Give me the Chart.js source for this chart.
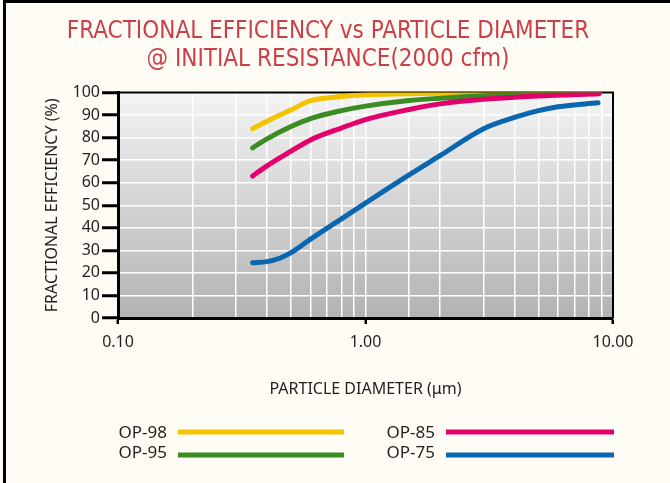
<!DOCTYPE html>
<html>
<head>
<meta charset="utf-8">
<script src="https://cdn.jsdelivr.net/npm/chart.js@4.4.1/dist/chart.umd.min.js"></script>
<style>
  html, body { margin: 0; padding: 0; background: #fffcf5; }
  #wrap { position: relative; width: 670px; height: 483px; }
</style>
</head>
<body>
<div id="wrap"><canvas id="chart-efficiency"></canvas></div>
<script>
// Data Start
const diameters = [0.35, 0.4, 0.5, 0.6, 0.8, 1.0, 1.5, 2.0, 3.0, 5.0, 8.8];
const op98 = [84, 87.3, 92.3, 96.4, 98.3, 99.1, 99.5, 99.7, 99.9, 100, 100];
const op95 = [75.5, 79.5, 85, 88.5, 92, 94, 96.5, 97.5, 98.6, 99.5, 100];
const op85 = [63, 67.5, 74, 79, 84.3, 88, 92.5, 95, 97, 98.5, 99.5];
const diameters75 = [0.35, 0.4, 0.45, 0.5, 0.6, 0.8, 1.0, 1.5, 2.0, 3.0, 4.0, 5.0, 6.0, 8.7];
const op75 = [24.5, 25, 26.5, 29, 35, 44, 51, 63.5, 72, 84, 89, 92, 93.7, 95.5];
const xTickLabels = [0.1, 1, 10];
const yTicks = [0, 10, 20, 30, 40, 50, 60, 70, 80, 90, 100];
const seriesNames = ["OP-98", "OP-95", "OP-85", "OP-75"];
const seriesColors = ["#f4c300", "#3b8c23", "#e3006c", "#0b66b0"];
// Data End

const FONT = "'Noto Sans', 'Open Sans', sans-serif";
const TITLE_FONT = "'Liberation Sans Narrow', 'DejaVu Sans Condensed', 'Roboto', sans-serif";

const toPoints = (xs, ys) => xs.map((x, i) => ({ x: x, y: ys[i] }));
const isMajor = (v) => xTickLabels.some((t) => Math.abs(v - t) < t * 1e-6);

// page background + frame, plot gradient
const backdrop = {
    id: "backdrop",
    beforeDraw(chart) {
        const { ctx, width, height, chartArea: a } = chart;
        ctx.save();
        ctx.fillStyle = "#fffcf5";
        ctx.fillRect(0, 0, width, height);
        ctx.fillStyle = "#000";
        ctx.fillRect(3, 0, 3, height);
        ctx.fillRect(3, 0, width - 3, 3);
        const g = ctx.createLinearGradient(0, a.top, 0, a.bottom);
        g.addColorStop(0, "#f4f4f4");
        g.addColorStop(1, "#b2b2b2");
        ctx.fillStyle = g;
        ctx.fillRect(a.left, a.top, a.right - a.left, a.bottom - a.top);
        ctx.restore();
    },
    beforeDatasetsDraw(chart) {
        const { ctx, chartArea: a } = chart;
        ctx.save();
        ctx.strokeStyle = "#000";
        ctx.lineWidth = 2;
        ctx.beginPath();
        ctx.moveTo(a.left, a.top);
        ctx.lineTo(a.right, a.top);
        ctx.lineTo(a.right, a.bottom);
        ctx.stroke();
        ctx.restore();
    },
};

// two column legend, label left of the line
const sideLegend = {
    id: "sideLegend",
    afterDraw(chart) {
        const { ctx } = chart;
        const cols = [
            { textRight: 167, x0: 178, x1: 344 },
            { textRight: 435, x0: 446, x1: 614 },
        ];
        const rows = [432, 455];
        ctx.save();
        ctx.font = "17px " + FONT;
        ctx.textAlign = "right";
        ctx.textBaseline = "middle";
        chart.data.datasets.forEach((ds, i) => {
            const c = cols[Math.floor(i / 2)];
            const y = rows[i % 2];
            ctx.fillStyle = "#231f20";
            ctx.fillText(ds.label, c.textRight, y + 1 - (i % 2) * 3);
            ctx.strokeStyle = ds.borderColor;
            ctx.lineWidth = 5;
            ctx.beginPath();
            ctx.moveTo(c.x0, y);
            ctx.lineTo(c.x1, y);
            ctx.stroke();
        });
        ctx.restore();
    },
};

const series = [
    toPoints(diameters, op98),
    toPoints(diameters, op95),
    toPoints(diameters, op85),
    toPoints(diameters75, op75),
];

new Chart(document.getElementById("chart-efficiency"), {
    type: "line",
    data: {
        datasets: series.map((pts, i) => ({
            label: seriesNames[i],
            data: pts,
            borderColor: seriesColors[i],
            backgroundColor: seriesColors[i],
            borderWidth: 5,
            borderCapStyle: "round",
            borderJoinStyle: "round",
            pointRadius: 0,
            cubicInterpolationMode: "monotone",
            order: seriesNames.length - i,
        })),
    },
    options: {
        responsive: true,
        maintainAspectRatio: false,
        animation: false,
        layout: {
            padding: { left: 43, right: 57, top: 0, bottom: 84 },
        },
        scales: {
            x: {
                type: "logarithmic",
                min: 0.1,
                max: 10,
                afterFit: (scale) => { scale.height = 81; },
                ticks: {
                    autoSkip: false,
                    maxRotation: 0,
                    padding: 9,
                    color: "#231f20",
                    font: { family: FONT, size: 16 },
                    callback: (v) => (isMajor(v) ? Number(v).toFixed(2) : ""),
                },
                grid: {
                    color: "#ffffff",
                    lineWidth: 1.5,
                    tickLength: 6,
                    tickWidth: 2.5,
                    tickColor: (ctx) => (ctx.tick && isMajor(ctx.tick.value) ? "#000" : "rgba(0,0,0,0)"),
                },
                border: { display: true, color: "#000", width: 3 },
                title: {
                    display: true,
                    text: "PARTICLE DIAMETER (\u03bcm)",
                    color: "#231f20",
                    font: { family: FONT, size: 16 },
                    padding: 0,
                },
            },
            y: {
                min: 0,
                max: 100,
                afterFit: (scale) => { scale.width = 75; },
                afterBuildTicks: (scale) => { scale.ticks = yTicks.map((v) => ({ value: v })); },
                ticks: {
                    padding: 2,
                    color: "#231f20",
                    font: { family: FONT, size: 16 },
                },
                grid: {
                    color: "#ffffff",
                    lineWidth: 1.5,
                    tickLength: 16,
                    tickWidth: 3,
                    tickColor: "#000",
                },
                border: { display: true, color: "#000", width: 3 },
                title: {
                    display: true,
                    text: "FRACTIONAL EFFICIENCY (%)",
                    color: "#231f20",
                    font: { family: FONT, size: 16 },
                    padding: 0,
                },
            },
        },
        plugins: {
            legend: { display: false },
            tooltip: { enabled: false },
            title: {
                display: true,
                text: ["FRACTIONAL EFFICIENCY vs PARTICLE DIAMETER", "@ INITIAL RESISTANCE(2000 cfm)"],
                color: "#c9404a",
                font: { family: TITLE_FONT, size: 24, weight: "normal", lineHeight: 1.2 },
                padding: { top: 17, bottom: 18 },
            },
        },
    },
    plugins: [backdrop, sideLegend],
});
</script>
</body>
</html>
